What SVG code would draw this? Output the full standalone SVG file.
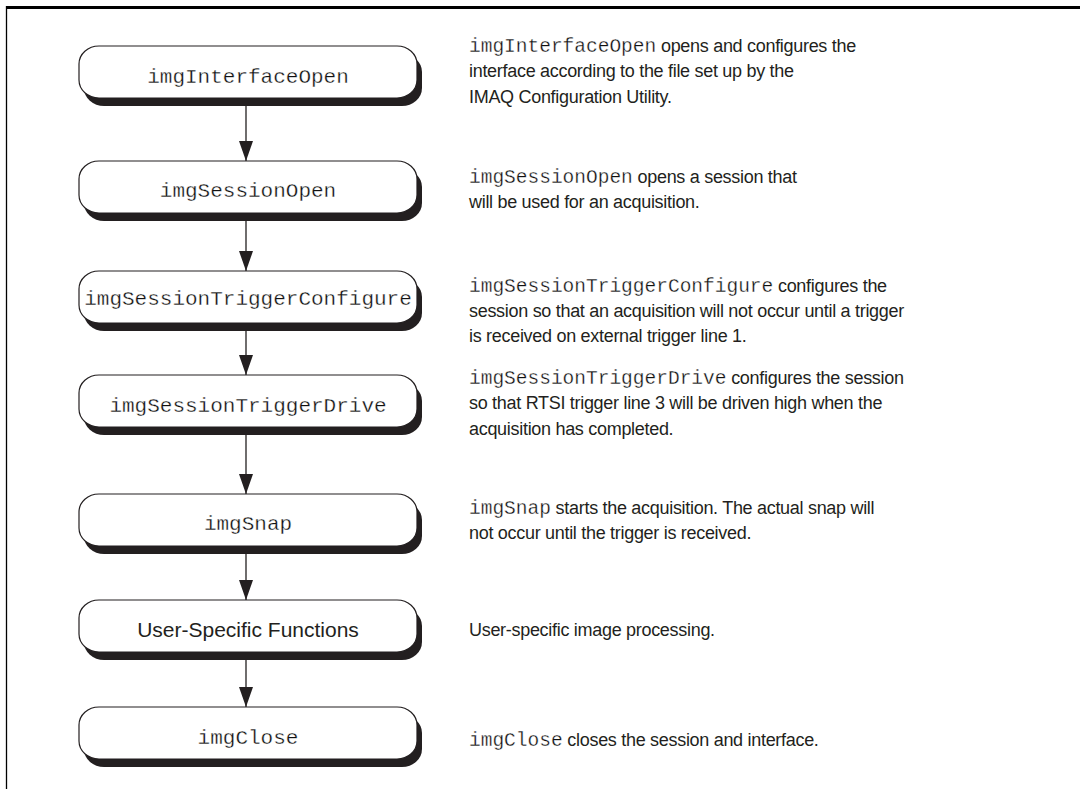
<svg xmlns="http://www.w3.org/2000/svg" width="1080" height="789" viewBox="0 0 1080 789">
  <style>
    .shadow { fill: #231f20; }
    .box { fill: #ffffff; stroke: #231f20; stroke-width: 1.2; }
    .code { font-family: "Liberation Mono", "Courier New", monospace; fill: #111111; stroke: #ffffff; stroke-width: 0.3px; }
    .lbl { font-size: 21px; }
    .sans { font-family: "Liberation Sans", Arial, sans-serif; fill: #231f20; }
    .desc { font-size: 18px; letter-spacing: -0.3px; }
    .desc .code { font-size: 19.5px; letter-spacing: 0; }
    .wire { stroke: #231f20; stroke-width: 1.3; fill: none; }
  </style>
  <defs>
    <!-- arrowhead drawn along +x, rotated to follow the line -->
    <marker id="head" viewBox="0 0 20 14" refX="20" refY="7" markerWidth="20" markerHeight="14" markerUnits="userSpaceOnUse" orient="auto">
      <path d="M0,0 L20,7 L0,14 Z" fill="#231f20"/>
    </marker>
    <g id="pill">
      <rect class="shadow" x="5" y="8" width="338" height="52" rx="20" ry="18"/>
      <rect class="box" x="0" y="0" width="338" height="52" rx="20" ry="18"/>
    </g>
  </defs>

  <!-- frame -->
  <line x1="6" y1="7.5" x2="1080" y2="7.5" stroke="#000" stroke-width="3"/>
  <line x1="6.5" y1="6" x2="6.5" y2="789" stroke="#000" stroke-width="1.3"/>

  <!-- connectors -->
  <g id="connectors">
    <line class="wire" x1="246" y1="106" x2="246" y2="161" marker-end="url(#head)"/>
    <line class="wire" x1="246" y1="221" x2="246" y2="271" marker-end="url(#head)"/>
    <line class="wire" x1="246" y1="331" x2="246" y2="375" marker-end="url(#head)"/>
    <line class="wire" x1="246" y1="435" x2="246" y2="494" marker-end="url(#head)"/>
    <line class="wire" x1="246" y1="554" x2="246" y2="600" marker-end="url(#head)"/>
    <line class="wire" x1="246" y1="660" x2="246" y2="707" marker-end="url(#head)"/>
  </g>

  <!-- steps -->
  <g id="step-interface-open">
    <use href="#pill" x="79" y="46"/>
    <text class="code lbl" x="248" y="83" text-anchor="middle">imgInterfaceOpen</text>
  </g>
  <g id="step-session-open">
    <use href="#pill" x="79" y="161"/>
    <text class="code lbl" x="248" y="197" text-anchor="middle">imgSessionOpen</text>
  </g>
  <g id="step-trigger-configure">
    <use href="#pill" x="79" y="271"/>
    <text class="code lbl" x="248" y="305" text-anchor="middle">imgSessionTriggerConfigure</text>
  </g>
  <g id="step-trigger-drive">
    <use href="#pill" x="79" y="375"/>
    <text class="code lbl" x="248" y="412" text-anchor="middle">imgSessionTriggerDrive</text>
  </g>
  <g id="step-snap">
    <use href="#pill" x="79" y="494"/>
    <text class="code lbl" x="248" y="530" text-anchor="middle">imgSnap</text>
  </g>
  <g id="step-user-functions">
    <use href="#pill" x="79" y="600"/>
    <text class="sans" x="248" y="637" text-anchor="middle" font-size="21">User-Specific Functions</text>
  </g>
  <g id="step-close">
    <use href="#pill" x="79" y="707"/>
    <text class="code lbl" x="248" y="744" text-anchor="middle">imgClose</text>
  </g>

  <!-- descriptions -->
  <g id="notes" class="sans desc">
    <text x="469" y="52"><tspan class="code">imgInterfaceOpen</tspan> opens and configures the</text>
    <text x="469" y="77">interface according to the file set up by the</text>
    <text x="469" y="103">IMAQ Configuration Utility.</text>

    <text x="469" y="183"><tspan class="code">imgSessionOpen</tspan> opens a session that</text>
    <text x="469" y="208">will be used for an acquisition.</text>

    <text x="469" y="292"><tspan class="code">imgSessionTriggerConfigure</tspan> configures the</text>
    <text x="469" y="317">session so that an acquisition will not occur until a trigger</text>
    <text x="469" y="342">is received on external trigger line 1.</text>

    <text x="469" y="384"><tspan class="code">imgSessionTriggerDrive</tspan> configures the session</text>
    <text x="469" y="409">so that RTSI trigger line 3 will be driven high when the</text>
    <text x="469" y="435">acquisition has completed.</text>

    <text x="469" y="514"><tspan class="code">imgSnap</tspan> starts the acquisition. The actual snap will</text>
    <text x="469" y="539">not occur until the trigger is received.</text>

    <text x="469" y="636">User-specific image processing.</text>

    <text x="469" y="746"><tspan class="code">imgClose</tspan> closes the session and interface.</text>
  </g>
</svg>
